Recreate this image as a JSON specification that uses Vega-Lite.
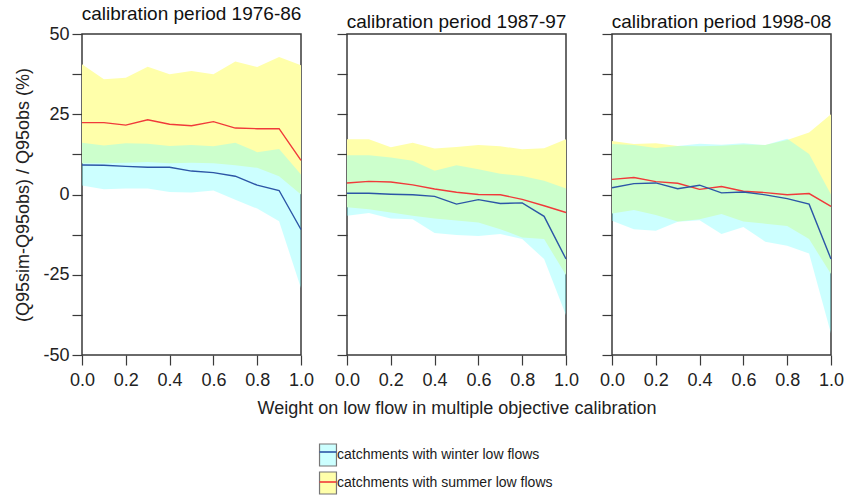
{
  "$schema": "https://vega.github.io/schema/vega-lite/v6.json",
  "background": "white",
  "padding": {"left": 14, "top": 4, "right": 5, "bottom": 5},
  "bounds": "flush",
  "datasets": {
    "bands": [
      {"p": "1976-86", "s": "summer", "x": 0.0, "lo": 9.7, "hi": 40.6},
      {"p": "1976-86", "s": "summer", "x": 0.1, "lo": 9.7, "hi": 35.9},
      {"p": "1976-86", "s": "summer", "x": 0.2, "lo": 9.9, "hi": 36.4},
      {"p": "1976-86", "s": "summer", "x": 0.3, "lo": 10.1, "hi": 39.8},
      {"p": "1976-86", "s": "summer", "x": 0.4, "lo": 9.7, "hi": 37.5},
      {"p": "1976-86", "s": "summer", "x": 0.5, "lo": 9.9, "hi": 38.5},
      {"p": "1976-86", "s": "summer", "x": 0.6, "lo": 9.7, "hi": 37.5},
      {"p": "1976-86", "s": "summer", "x": 0.7, "lo": 9.1, "hi": 41.4},
      {"p": "1976-86", "s": "summer", "x": 0.8, "lo": 8.3, "hi": 39.7},
      {"p": "1976-86", "s": "summer", "x": 0.9, "lo": 5.7, "hi": 42.8},
      {"p": "1976-86", "s": "summer", "x": 1.0, "lo": 0.0, "hi": 40.3},
      {"p": "1976-86", "s": "winter", "x": 0.0, "lo": 2.8, "hi": 16.1},
      {"p": "1976-86", "s": "winter", "x": 0.1, "lo": 1.6, "hi": 15.3},
      {"p": "1976-86", "s": "winter", "x": 0.2, "lo": 1.9, "hi": 16.0},
      {"p": "1976-86", "s": "winter", "x": 0.3, "lo": 1.9, "hi": 15.8},
      {"p": "1976-86", "s": "winter", "x": 0.4, "lo": 0.8, "hi": 15.1},
      {"p": "1976-86", "s": "winter", "x": 0.5, "lo": 0.6, "hi": 15.4},
      {"p": "1976-86", "s": "winter", "x": 0.6, "lo": 1.25, "hi": 15.0},
      {"p": "1976-86", "s": "winter", "x": 0.7, "lo": -1.6, "hi": 16.1},
      {"p": "1976-86", "s": "winter", "x": 0.8, "lo": -4.4, "hi": 13.2},
      {"p": "1976-86", "s": "winter", "x": 0.9, "lo": -8.3, "hi": 14.2},
      {"p": "1976-86", "s": "winter", "x": 1.0, "lo": -29.2, "hi": 6.25},
      {"p": "1987-97", "s": "summer", "x": 0.0, "lo": -4.0, "hi": 17.2},
      {"p": "1987-97", "s": "summer", "x": 0.1, "lo": -4.6, "hi": 17.2},
      {"p": "1987-97", "s": "summer", "x": 0.2, "lo": -5.6, "hi": 14.7},
      {"p": "1987-97", "s": "summer", "x": 0.3, "lo": -6.6, "hi": 16.1},
      {"p": "1987-97", "s": "summer", "x": 0.4, "lo": -7.5, "hi": 14.3},
      {"p": "1987-97", "s": "summer", "x": 0.5, "lo": -8.1, "hi": 14.8},
      {"p": "1987-97", "s": "summer", "x": 0.6, "lo": -8.7, "hi": 15.4},
      {"p": "1987-97", "s": "summer", "x": 0.7, "lo": -10.8, "hi": 15.0},
      {"p": "1987-97", "s": "summer", "x": 0.8, "lo": -13.4, "hi": 14.1},
      {"p": "1987-97", "s": "summer", "x": 0.9, "lo": -13.9, "hi": 14.4},
      {"p": "1987-97", "s": "summer", "x": 1.0, "lo": -25.1, "hi": 17.2},
      {"p": "1987-97", "s": "winter", "x": 0.0, "lo": -6.6, "hi": 12.2},
      {"p": "1987-97", "s": "winter", "x": 0.1, "lo": -5.8, "hi": 12.2},
      {"p": "1987-97", "s": "winter", "x": 0.2, "lo": -7.5, "hi": 11.5},
      {"p": "1987-97", "s": "winter", "x": 0.3, "lo": -7.7, "hi": 10.5},
      {"p": "1987-97", "s": "winter", "x": 0.4, "lo": -12.0, "hi": 7.4},
      {"p": "1987-97", "s": "winter", "x": 0.5, "lo": -12.6, "hi": 9.1},
      {"p": "1987-97", "s": "winter", "x": 0.6, "lo": -12.9, "hi": 7.9},
      {"p": "1987-97", "s": "winter", "x": 0.7, "lo": -12.3, "hi": 6.5},
      {"p": "1987-97", "s": "winter", "x": 0.8, "lo": -13.9, "hi": 5.8},
      {"p": "1987-97", "s": "winter", "x": 0.9, "lo": -20.1, "hi": 4.3},
      {"p": "1987-97", "s": "winter", "x": 1.0, "lo": -37.6, "hi": 1.9},
      {"p": "1998-08", "s": "summer", "x": 0.0, "lo": -5.9, "hi": 16.7},
      {"p": "1998-08", "s": "summer", "x": 0.1, "lo": -4.8, "hi": 15.7},
      {"p": "1998-08", "s": "summer", "x": 0.2, "lo": -6.4, "hi": 16.0},
      {"p": "1998-08", "s": "summer", "x": 0.3, "lo": -8.4, "hi": 15.1},
      {"p": "1998-08", "s": "summer", "x": 0.4, "lo": -7.7, "hi": 15.0},
      {"p": "1998-08", "s": "summer", "x": 0.5, "lo": -6.1, "hi": 15.2},
      {"p": "1998-08", "s": "summer", "x": 0.6, "lo": -8.4, "hi": 15.6},
      {"p": "1998-08", "s": "summer", "x": 0.7, "lo": -9.1, "hi": 15.4},
      {"p": "1998-08", "s": "summer", "x": 0.8, "lo": -9.8, "hi": 17.0},
      {"p": "1998-08", "s": "summer", "x": 0.9, "lo": -13.9, "hi": 19.3},
      {"p": "1998-08", "s": "summer", "x": 1.0, "lo": -24.8, "hi": 25.0},
      {"p": "1998-08", "s": "winter", "x": 0.0, "lo": -8.2, "hi": 15.7},
      {"p": "1998-08", "s": "winter", "x": 0.1, "lo": -10.8, "hi": 15.4},
      {"p": "1998-08", "s": "winter", "x": 0.2, "lo": -11.3, "hi": 14.5},
      {"p": "1998-08", "s": "winter", "x": 0.3, "lo": -8.5, "hi": 15.1},
      {"p": "1998-08", "s": "winter", "x": 0.4, "lo": -8.0, "hi": 15.8},
      {"p": "1998-08", "s": "winter", "x": 0.5, "lo": -12.3, "hi": 15.5},
      {"p": "1998-08", "s": "winter", "x": 0.6, "lo": -10.1, "hi": 16.0},
      {"p": "1998-08", "s": "winter", "x": 0.7, "lo": -14.7, "hi": 15.4},
      {"p": "1998-08", "s": "winter", "x": 0.8, "lo": -16.0, "hi": 17.4},
      {"p": "1998-08", "s": "winter", "x": 0.9, "lo": -18.4, "hi": 12.6},
      {"p": "1998-08", "s": "winter", "x": 1.0, "lo": -43.3, "hi": 0.0}
    ],
    "medians": [
      {"p": "1976-86", "s": "summer", "x": 0.0, "m": 22.4},
      {"p": "1976-86", "s": "summer", "x": 0.1, "m": 22.4},
      {"p": "1976-86", "s": "summer", "x": 0.2, "m": 21.6},
      {"p": "1976-86", "s": "summer", "x": 0.3, "m": 23.3},
      {"p": "1976-86", "s": "summer", "x": 0.4, "m": 21.9},
      {"p": "1976-86", "s": "summer", "x": 0.5, "m": 21.4},
      {"p": "1976-86", "s": "summer", "x": 0.6, "m": 22.7},
      {"p": "1976-86", "s": "summer", "x": 0.7, "m": 20.7},
      {"p": "1976-86", "s": "summer", "x": 0.8, "m": 20.5},
      {"p": "1976-86", "s": "summer", "x": 0.9, "m": 20.5},
      {"p": "1976-86", "s": "summer", "x": 1.0, "m": 10.6},
      {"p": "1976-86", "s": "winter", "x": 0.0, "m": 9.2},
      {"p": "1976-86", "s": "winter", "x": 0.1, "m": 9.1},
      {"p": "1976-86", "s": "winter", "x": 0.2, "m": 8.75},
      {"p": "1976-86", "s": "winter", "x": 0.3, "m": 8.5},
      {"p": "1976-86", "s": "winter", "x": 0.4, "m": 8.5},
      {"p": "1976-86", "s": "winter", "x": 0.5, "m": 7.3},
      {"p": "1976-86", "s": "winter", "x": 0.6, "m": 6.8},
      {"p": "1976-86", "s": "winter", "x": 0.7, "m": 5.7},
      {"p": "1976-86", "s": "winter", "x": 0.8, "m": 2.9},
      {"p": "1976-86", "s": "winter", "x": 0.9, "m": 1.25},
      {"p": "1976-86", "s": "winter", "x": 1.0, "m": -10.9},
      {"p": "1987-97", "s": "summer", "x": 0.0, "m": 3.6},
      {"p": "1987-97", "s": "summer", "x": 0.1, "m": 4.1},
      {"p": "1987-97", "s": "summer", "x": 0.2, "m": 3.9},
      {"p": "1987-97", "s": "summer", "x": 0.3, "m": 3.0},
      {"p": "1987-97", "s": "summer", "x": 0.4, "m": 1.7},
      {"p": "1987-97", "s": "summer", "x": 0.5, "m": 0.7},
      {"p": "1987-97", "s": "summer", "x": 0.6, "m": 0.0},
      {"p": "1987-97", "s": "summer", "x": 0.7, "m": -0.1},
      {"p": "1987-97", "s": "summer", "x": 0.8, "m": -1.5},
      {"p": "1987-97", "s": "summer", "x": 0.9, "m": -3.5},
      {"p": "1987-97", "s": "summer", "x": 1.0, "m": -5.6},
      {"p": "1987-97", "s": "winter", "x": 0.0, "m": 0.4},
      {"p": "1987-97", "s": "winter", "x": 0.1, "m": 0.4},
      {"p": "1987-97", "s": "winter", "x": 0.2, "m": 0.1},
      {"p": "1987-97", "s": "winter", "x": 0.3, "m": -0.1},
      {"p": "1987-97", "s": "winter", "x": 0.4, "m": -0.6},
      {"p": "1987-97", "s": "winter", "x": 0.5, "m": -3.0},
      {"p": "1987-97", "s": "winter", "x": 0.6, "m": -1.6},
      {"p": "1987-97", "s": "winter", "x": 0.7, "m": -2.8},
      {"p": "1987-97", "s": "winter", "x": 0.8, "m": -2.6},
      {"p": "1987-97", "s": "winter", "x": 0.9, "m": -6.8},
      {"p": "1987-97", "s": "winter", "x": 1.0, "m": -20.1},
      {"p": "1998-08", "s": "summer", "x": 0.0, "m": 4.7},
      {"p": "1998-08", "s": "summer", "x": 0.1, "m": 5.3},
      {"p": "1998-08", "s": "summer", "x": 0.2, "m": 4.0},
      {"p": "1998-08", "s": "summer", "x": 0.3, "m": 3.5},
      {"p": "1998-08", "s": "summer", "x": 0.4, "m": 1.6},
      {"p": "1998-08", "s": "summer", "x": 0.5, "m": 2.5},
      {"p": "1998-08", "s": "summer", "x": 0.6, "m": 1.0},
      {"p": "1998-08", "s": "summer", "x": 0.7, "m": 0.6},
      {"p": "1998-08", "s": "summer", "x": 0.8, "m": -0.1},
      {"p": "1998-08", "s": "summer", "x": 0.9, "m": 0.3},
      {"p": "1998-08", "s": "summer", "x": 1.0, "m": -3.7},
      {"p": "1998-08", "s": "winter", "x": 0.0, "m": 2.1},
      {"p": "1998-08", "s": "winter", "x": 0.1, "m": 3.4},
      {"p": "1998-08", "s": "winter", "x": 0.2, "m": 3.6},
      {"p": "1998-08", "s": "winter", "x": 0.3, "m": 1.8},
      {"p": "1998-08", "s": "winter", "x": 0.4, "m": 2.9},
      {"p": "1998-08", "s": "winter", "x": 0.5, "m": 0.5},
      {"p": "1998-08", "s": "winter", "x": 0.6, "m": 0.8},
      {"p": "1998-08", "s": "winter", "x": 0.7, "m": -0.1},
      {"p": "1998-08", "s": "winter", "x": 0.8, "m": -1.3},
      {"p": "1998-08", "s": "winter", "x": 0.9, "m": -3.0},
      {"p": "1998-08", "s": "winter", "x": 1.0, "m": -20.1}
    ]
  },
  "spacing": 46,
  "resolve": {"scale": {"fill": "shared", "stroke": "shared"}},
  "hconcat": [
    {
      "width": 219, "height": 321,
      "title": {"text": "calibration period 1976-86", "offset": 1},
      "layer": [
        {
          "data": {"name": "bands"},
          "transform": [{"filter": "datum.p === '1976-86' && datum.s === 'summer'"}],
          "mark": {"type": "area"},
          "encoding": {
            "x": {"field": "x", "type": "quantitative", "scale": {"domain": [0, 1], "nice": false},
                  "axis": {"values": [0, 0.1, 0.2, 0.3, 0.4, 0.5, 0.6, 0.7, 0.8, 0.9, 1.0], "labelExpr": "round(datum.value*10) % 2 === 0 ? format(datum.value, '.1f') : ''", "title": null}},
            "y": {"field": "lo", "type": "quantitative", "scale": {"domain": [-50, 50], "nice": false},
                  "axis": {"values": [-50, -37.5, -25, -12.5, 0, 12.5, 25, 37.5, 50], "labelExpr": "datum.value % 25 === 0 ? '' + datum.value : ''", "title": "(Q95sim-Q95obs) / Q95obs (%)", "titlePadding": 10}},
            "y2": {"field": "hi"},
            "fill": {"field": "s", "type": "nominal", "scale": {"range": ["#FFFFAA", "#80FFFF"]},
                     "legend": {"orient": "none", "legendX": 234, "legendY": 409, "title": null, "values": ["winter", "summer"], "labelExpr": "datum.value === 'winter' ? 'catchments with winter low flows' : 'catchments with summer low flows'", "symbolType": "M-0.77,-1L0.77,-1L0.77,1L-0.77,1Z", "symbolSize": 484, "symbolStrokeColor": "#777777", "symbolStrokeWidth": 1.2, "symbolOpacity": 1, "labelFontSize": 14, "labelLimit": 400, "labelOffset": -3, "rowPadding": 0, "labelColor": "#1a1a1a",
                                "encode": {"symbols": {"update": {"fillOpacity": {"signal": "datum.value === 'winter' ? 0.4 : 1"}}}}}}
          }
        },
        {
          "data": {"name": "bands"},
          "transform": [{"filter": "datum.p === '1976-86' && datum.s === 'winter'"}],
          "mark": {"type": "area", "fillOpacity": 0.4},
          "encoding": {
            "x": {"field": "x", "type": "quantitative"},
            "y": {"field": "lo", "type": "quantitative"},
            "y2": {"field": "hi"},
            "fill": {"field": "s", "type": "nominal"}
          }
        },
        {
          "mark": {"type": "rule", "color": "#8a8a8a", "strokeDash": [1, 2], "strokeWidth": 1},
          "encoding": {"y": {"datum": 0, "type": "quantitative"}}
        },
        {
          "data": {"name": "medians"},
          "transform": [{"filter": "datum.p === '1976-86'"}],
          "mark": {"type": "line", "strokeWidth": 1.4},
          "encoding": {
            "x": {"field": "x", "type": "quantitative"},
            "y": {"field": "m", "type": "quantitative"},
            "stroke": {"field": "s", "type": "nominal", "scale": {"range": ["#F03A3A", "#2C56A6"]},
                       "legend": {"orient": "none", "legendX": 234, "legendY": 406, "title": null, "values": ["winter", "summer"], "labelExpr": "datum.value === 'winter' ? 'catchments with winter low flows' : 'catchments with summer low flows'", "labelOpacity": 0, "labelLimit": 400, "symbolType": "M-0.77,-1M-0.77,0L0.77,0M0.77,1", "symbolSize": 484, "symbolStrokeWidth": 1.6, "labelFontSize": 14, "labelOffset": -3, "rowPadding": 0}}
          }
        }
      ]
    },
    {
      "width": 219, "height": 321,
      "title": {"text": "calibration period 1987-97", "offset": 1},
      "layer": [
        {
          "data": {"name": "bands"},
          "transform": [{"filter": "datum.p === '1987-97' && datum.s === 'summer'"}],
          "mark": {"type": "area"},
          "encoding": {
            "x": {"field": "x", "type": "quantitative", "scale": {"domain": [0, 1], "nice": false},
                  "axis": {"values": [0, 0.1, 0.2, 0.3, 0.4, 0.5, 0.6, 0.7, 0.8, 0.9, 1.0], "labelExpr": "round(datum.value*10) % 2 === 0 ? format(datum.value, '.1f') : ''", "title": "Weight on low flow in multiple objective calibration", "titlePadding": 10}},
            "y": {"field": "lo", "type": "quantitative", "scale": {"domain": [-50, 50], "nice": false},
                  "axis": {"values": [-50, -37.5, -25, -12.5, 0, 12.5, 25, 37.5, 50], "labels": false, "title": null}},
            "y2": {"field": "hi"},
            "fill": {"field": "s", "type": "nominal"}
          }
        },
        {
          "data": {"name": "bands"},
          "transform": [{"filter": "datum.p === '1987-97' && datum.s === 'winter'"}],
          "mark": {"type": "area", "fillOpacity": 0.4},
          "encoding": {
            "x": {"field": "x", "type": "quantitative"},
            "y": {"field": "lo", "type": "quantitative"},
            "y2": {"field": "hi"},
            "fill": {"field": "s", "type": "nominal"}
          }
        },
        {
          "mark": {"type": "rule", "color": "#8a8a8a", "strokeDash": [1, 2], "strokeWidth": 1},
          "encoding": {"y": {"datum": 0, "type": "quantitative"}}
        },
        {
          "data": {"name": "medians"},
          "transform": [{"filter": "datum.p === '1987-97'"}],
          "mark": {"type": "line", "strokeWidth": 1.4},
          "encoding": {
            "x": {"field": "x", "type": "quantitative"},
            "y": {"field": "m", "type": "quantitative"},
            "stroke": {"field": "s", "type": "nominal"}
          }
        }
      ]
    },
    {
      "width": 219, "height": 321,
      "title": {"text": "calibration period 1998-08", "offset": 1},
      "layer": [
        {
          "data": {"name": "bands"},
          "transform": [{"filter": "datum.p === '1998-08' && datum.s === 'summer'"}],
          "mark": {"type": "area"},
          "encoding": {
            "x": {"field": "x", "type": "quantitative", "scale": {"domain": [0, 1], "nice": false},
                  "axis": {"values": [0, 0.1, 0.2, 0.3, 0.4, 0.5, 0.6, 0.7, 0.8, 0.9, 1.0], "labelExpr": "round(datum.value*10) % 2 === 0 ? format(datum.value, '.1f') : ''", "title": null}},
            "y": {"field": "lo", "type": "quantitative", "scale": {"domain": [-50, 50], "nice": false},
                  "axis": {"values": [-50, -37.5, -25, -12.5, 0, 12.5, 25, 37.5, 50], "labels": false, "title": null}},
            "y2": {"field": "hi"},
            "fill": {"field": "s", "type": "nominal"}
          }
        },
        {
          "data": {"name": "bands"},
          "transform": [{"filter": "datum.p === '1998-08' && datum.s === 'winter'"}],
          "mark": {"type": "area", "fillOpacity": 0.4},
          "encoding": {
            "x": {"field": "x", "type": "quantitative"},
            "y": {"field": "lo", "type": "quantitative"},
            "y2": {"field": "hi"},
            "fill": {"field": "s", "type": "nominal"}
          }
        },
        {
          "mark": {"type": "rule", "color": "#8a8a8a", "strokeDash": [1, 2], "strokeWidth": 1},
          "encoding": {"y": {"datum": 0, "type": "quantitative"}}
        },
        {
          "data": {"name": "medians"},
          "transform": [{"filter": "datum.p === '1998-08'"}],
          "mark": {"type": "line", "strokeWidth": 1.4},
          "encoding": {
            "x": {"field": "x", "type": "quantitative"},
            "y": {"field": "m", "type": "quantitative"},
            "stroke": {"field": "s", "type": "nominal"}
          }
        }
      ]
    }
  ],
  "config": {
    "font": "Liberation Sans",
    "view": {"stroke": "#3a3a3a", "strokeWidth": 1.5},
    "axis": {"domain": false, "grid": false, "tickColor": "#3a3a3a", "tickSize": 10, "tickWidth": 1.2, "labelFontSize": 18, "labelColor": "#222222", "labelPadding": 3, "titleFontSize": 18, "titleFontWeight": "normal", "titleColor": "#222222"},
    "axisX": {"labelPadding": 6, "labelFlush": false},
    "axisY": {"labelFlush": false},
    "title": {"fontSize": 19, "fontWeight": "normal", "color": "#111111", "anchor": "middle"}
  }
}
